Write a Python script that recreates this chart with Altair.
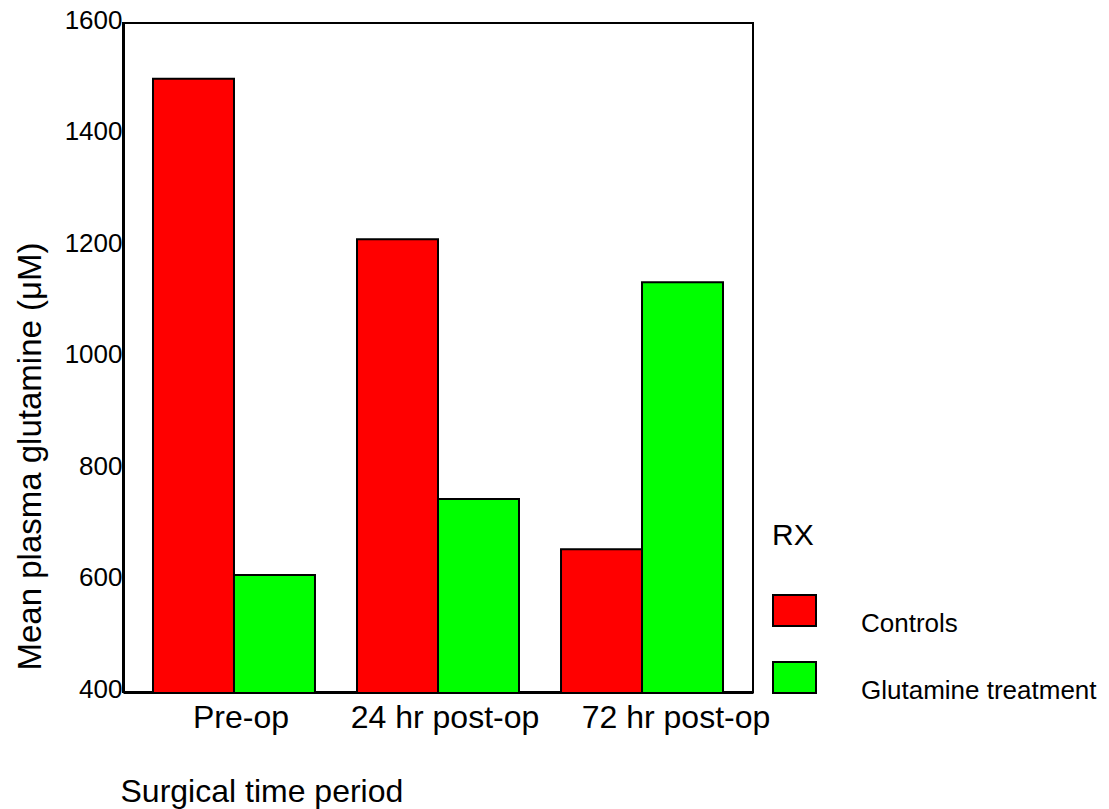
import altair as alt
import pandas as pd

periods = ["Pre-op", "24 hr post-op", "72 hr post-op"]
groups = ["Controls", "Glutamine treatment"]
controls = [1500, 1212, 656]
glutamine = [610, 746, 1135]
colors = ["#FF0000", "#00FF00"]
y_ticks = [400, 600, 800, 1000, 1200, 1400, 1600]

rows = []
for p, c, g in zip(periods, controls, glutamine):
    rows.append({"period": p, "rx": groups[0], "value": c})
    rows.append({"period": p, "rx": groups[1], "value": g})
df = pd.DataFrame(rows)

FONT = "Liberation Sans"

chart = alt.Chart(df).mark_bar(
    stroke="black", strokeWidth=2, clip=True, opacity=1
).encode(
    x=alt.X(
        "period:N",
        sort=periods,
        scale=alt.Scale(paddingInner=0.206, paddingOuter=0.147),
        axis=alt.Axis(
            title="Surgical time period",
            labelAngle=0,
            labelFontSize=32,
            labelFont=FONT,
            labelColor="black",
            labelPadding=10,
            labelBaseline="top",
            labelLimit=0,
            labelOffset={"condition": {"test": "datum.value === '72 hr post-op'", "value": 34}, "value": 7},
            ticks=False,
            tickSize=0,
            domain=True,
            domainColor="black",
            domainWidth=3,
            titleFontSize=32,
            titleFont=FONT,
            titleFontWeight="normal",
            titleColor="black",
            titleAlign="left",
            titleAnchor="start",
            titleBaseline="alphabetic",
            titleX=-3,
            titleY=109,
        ),
    ),
    xOffset=alt.XOffset("rx:N", sort=groups, scale=alt.Scale(paddingInner=0, paddingOuter=0)),
    y=alt.Y(
        "value:Q",
        scale=alt.Scale(domain=[400, 1600], zero=False, nice=False),
        axis=alt.Axis(
            title="Mean plasma glutamine (\u03bcM)",
            values=y_ticks,
            format="d",
            labelFontSize=26,
            labelFont=FONT,
            labelColor="black",
            labelPadding=1,
            labelOffset=-3,
            labelFlush=False,
            ticks=False,
            tickSize=0,
            grid=False,
            domain=True,
            domainColor="black",
            domainWidth=3,
            titleFontSize=33,
            titleFont=FONT,
            titleFontWeight="normal",
            titleColor="black",
            titleAngle=270,
            titleAlign="center",
            titleBaseline="alphabetic",
            titleX=-83,
            titleY=433,
        ),
    ),
    fill=alt.Fill(
        "rx:N",
        sort=groups,
        scale=alt.Scale(domain=groups, range=colors),
        legend=alt.Legend(
            title="RX",
            orient="none",
            legendX=649,
            legendY=498,
            padding=0,
            titleFontSize=30,
            titleFont=FONT,
            titleFontWeight="normal",
            titleColor="black",
            titlePadding=37,
            labelFontSize=26,
            labelFont=FONT,
            labelColor="black",
            labelBaseline="top",
            labelOffset=44,
            labelLimit=0,
            symbolType="M-1,-0.72L1,-0.72L1,0.72L-1,0.72Z",
            symbolSize=1849,
            symbolStrokeColor="black",
            symbolStrokeWidth=2,
            symbolOpacity=1,
            rowPadding=18,
        ),
    ),
).properties(
    width=630,
    height=669,
    autosize=alt.AutoSizeParams(type="none"),
    padding={"left": 115, "top": 15, "right": 345, "bottom": 118},
    background="white",
).configure_view(
    stroke="black", strokeWidth=2
)

chart.save("out.html", embed_options={"renderer": "svg", "actions": False})
